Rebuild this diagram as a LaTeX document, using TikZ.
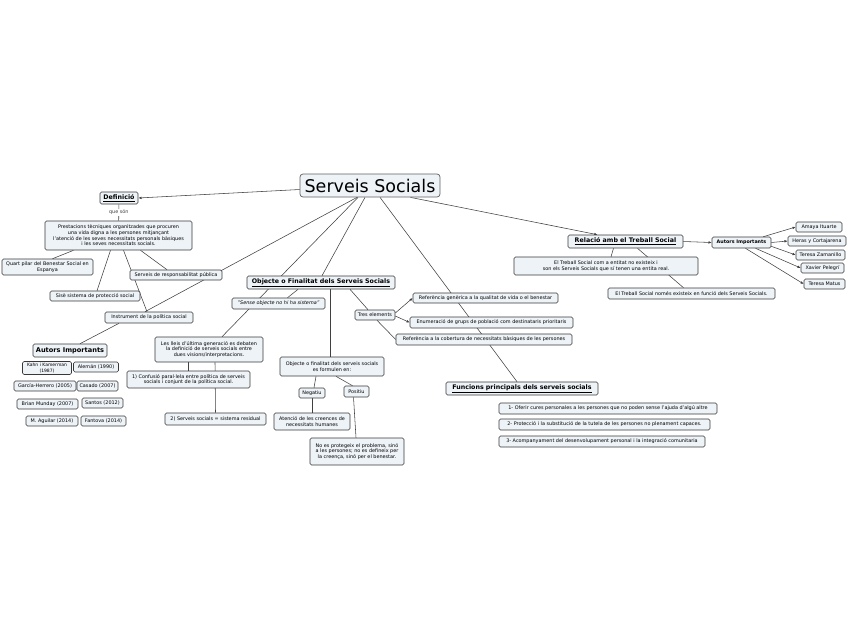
\documentclass[tikz,border=0pt]{standalone}
\usepackage{fontspec}
\setmainfont{DejaVu Sans}
\usetikzlibrary{arrows.meta,backgrounds}
\definecolor{boxfill}{HTML}{EEF3F8}
\definecolor{edge}{HTML}{383838}
\definecolor{wire}{HTML}{404040}

\begin{document}
\begin{tikzpicture}[x=1pt,y=-1pt,
          every node/.style={font=\fontsize{4.9}{5.7}\selectfont},
          mapbox/.style={rounded corners=1.5pt,fill=boxfill,draw=edge,line width=.6pt,
              inner sep=1.1pt,align=center},
          maphead/.style={mapbox,font=\bfseries\fontsize{6.3}{7.2}\selectfont},
          maptitle/.style={rounded corners=3pt,fill=boxfill,draw=edge!80,line width=.7pt,
              inner sep=2pt,font=\fontsize{17.5}{20}\selectfont},
          link/.style={wire,line width=.55pt},
          tip/.style={link,-{Latex[length=3.2pt,width=2.6pt]}}]
        \useasboundingbox (0,0) rectangle (848,638);
        % centre
        \node[maptitle,minimum width=140,minimum height=23] (title) at (370,185.5) {Serveis Socials};
        % definicio
        \node[maphead,minimum width=38,minimum height=12] (defin) at (119,198) {\underline{Definició}};
        \node[mapbox,minimum width=147,minimum height=29] (prest) at (118.5,235.5)
            {Prestacions tècniques organitzades que procuren\\una vida digna a les persones mitjançant\\l'atenció de les seves necessitats personals bàsiques\\i les seves necessitats socials.};
        \node[mapbox,minimum width=91,minimum height=16] (quart) at (47.5,267) {Quart pilar del Benestar Social en\\Espanya};
        \node[mapbox,minimum width=90,minimum height=10] (sise) at (95,296) {Sisè sistema de protecció social};
        \node[mapbox,minimum width=92,minimum height=10] (resp) at (176,275) {Serveis de responsabilitat pública};
        \node[mapbox,minimum width=88,minimum height=11] (instr) at (149,317.5) {Instrument de la política social};
        \node[mapbox,font=\bfseries\fontsize{6.6}{7.5}\selectfont,minimum width=74,minimum height=13] (autL) at (70,350.5) {Autors Importants};
        \node[mapbox,font=\fontsize{4.5}{5.3}\selectfont,minimum width=49,minimum height=13] (kahn) at (47,368) {Kahn i Kamerman\\(1987)};
        \node[mapbox,minimum width=45,minimum height=10] (aleman) at (96,367) {Alemán (1990)};
        \node[mapbox,minimum width=62,minimum height=10] (garcia) at (45,386) {García-Herrero (2005)};
        \node[mapbox,minimum width=41,minimum height=10] (casado) at (97.5,386) {Casado (2007)};
        \node[mapbox,minimum width=61,minimum height=10] (brian) at (47.5,404) {Brian Munday (2007)};
        \node[mapbox,minimum width=41,minimum height=10] (santos) at (102.5,403) {Santos (2012)};
        \node[mapbox,minimum width=52,minimum height=10] (aguilar) at (52,421) {M. Aguilar (2014)};
        \node[mapbox,minimum width=45,minimum height=10] (fantova) at (103.5,421) {Fantova (2014)};
        % objecte
        \node[maphead,minimum width=148,minimum height=13] (objecte) at (321,282.5) {\underline{Objecte o Finalitat dels Serveis Socials}};
        \node[mapbox,font=\itshape\fontsize{4.9}{5.7}\selectfont,minimum width=93,minimum height=11] (sense) at (278.5,303.5) {"Sense objecte no hi ha sistema"};
        \node[mapbox,minimum width=108,minimum height=25] (lleis) at (209,349.5)
            {Les lleis d'última generació es debaten\\la definició de serveis socials entre\\dues visions/interpretacions.};
        \node[mapbox,minimum width=123,minimum height=17] (confus) at (188.5,379.5)
            {1) Confusió paral·lela entre política de serveis\\socials i conjunt de la política social.};
        \node[mapbox,minimum width=101,minimum height=12] (resid) at (215.5,419) {2) Serveis socials = sistema residual};
        \node[mapbox,minimum width=104,minimum height=19] (formul) at (332,366.5)
            {Objecte o finalitat dels serveis socials\\es formulen en:};
        \node[mapbox,minimum width=26,minimum height=10] (neg) at (312,393) {Negatiu};
        \node[mapbox,minimum width=25,minimum height=11] (pos) at (356.5,391.5) {Positiu};
        \node[mapbox,minimum width=76,minimum height=17] (atencio) at (312,421.5) {Atenció de les creences de\\necessitats humanes};
        \node[mapbox,minimum width=94,minimum height=27] (noprot) at (357,451.5)
            {No es protegeix el problema, sinó\\a les persones; no es defineix per\\la creença, sinó per el benestar.};
        \node[mapbox,minimum width=40,minimum height=10] (tres) at (375,315) {Tres elements};
        \node[mapbox,minimum width=145,minimum height=10] (ref1) at (485.5,298) {Referència genèrica a la qualitat de vida o el benestar};
        \node[mapbox,minimum width=163,minimum height=11] (ref2) at (491.5,322.5) {Enumeració de grups de població com destinataris prioritaris};
        \node[mapbox,minimum width=176,minimum height=11] (ref3) at (484,339.5) {Referència a la cobertura de necessitats bàsiques de les persones};
        % funcions
        \node[maphead,minimum width=152,minimum height=13] (funcions) at (522,388.5) {\underline{Funcions principals dels serveis socials}};
        \node[mapbox,minimum width=218,minimum height=11] (fun1) at (608,408.5) {1- Oferir cures personales a les persones que no poden sense l'ajuda d'algú altre};
        \node[mapbox,minimum width=211,minimum height=11] (fun2) at (604.5,424.5) {2- Protecció i la substitució de la tutela de les persones no plenament capaces.};
        \node[mapbox,minimum width=206,minimum height=11] (fun3) at (602,441.5) {3- Acompanyament del desenvolupament personal i la integració comunitaria};
        % treball social
        \node[maphead,minimum width=115,minimum height=13] (relacio) at (625.5,241.5) {\underline{Relació amb el Treball Social}};
        \node[mapbox,minimum width=184,minimum height=18] (entitat) at (606,266)
            {El Treball Social com a entitat no existeix i\\son els Serveis Socials que sí tenen una entita real.};
        \node[mapbox,minimum width=167,minimum height=11] (nomes) at (691.5,293.5) {El Treball Social només existeix en funció dels Serveis Socials.};
        \node[mapbox,font=\bfseries\fontsize{4.8}{5.5}\selectfont,minimum width=59,minimum height=11] (autR) at (741.5,242.5) {Autors Importants};
        \node[mapbox,minimum width=46,minimum height=10] (amaya) at (819,227) {Amaya Ituarte};
        \node[mapbox,minimum width=58,minimum height=10] (heras) at (817,241) {Heras y Cortajarena};
        \node[mapbox,minimum width=49,minimum height=10] (zaman) at (820.5,255) {Teresa Zamanillo};
        \node[mapbox,minimum width=43,minimum height=10] (pelegri) at (822.5,268) {Xavier Pelegrí};
        \node[mapbox,minimum width=41,minimum height=10] (matus) at (824.5,284) {Teresa Matus};

        \begin{scope}[on background layer]
        \draw[tip] ([yshift=-4pt]title.west) -- (defin.east);
        \draw[link] (defin) -- node[fill=white,inner sep=1pt] (queson) {que són} (prest);
        \draw[link] ([xshift=-45pt]prest.south) -- ([xshift=5pt]quart.north);
        \draw[link] ([xshift=-8pt]prest.south) -- ([xshift=2pt]sise.north);
        \draw[link] ([xshift=5pt]prest.south) -- ([xshift=-2pt]instr.north);
        \draw[link] ([xshift=22pt]prest.south) -- ([xshift=-9pt]resp.north);
        \draw[link] ([xshift=-13pt]title.south) -- ([xshift=-4pt]instr.north);
        \draw[link] ([xshift=-30pt]instr.south) -- ([xshift=10pt]autL.north);
        \draw[link] ([xshift=-12pt]title.south) -- ([xshift=13pt]lleis.north);
        \draw[link] ([xshift=-5pt]title.south) -- ([xshift=1pt]objecte.north);
        \draw[link] ([xshift=10pt]title.south) -- ([xshift=-5pt]funcions.north);
        \draw[tip] ([xshift=-30pt]title.south east) -- ([xshift=-28pt]relacio.north);
        \draw[link] ([xshift=-23pt]objecte.south) -- ([xshift=9pt]sense.north);
        \draw[link] ([xshift=9pt]objecte.south) -- ([xshift=-2pt]formul.north);
        \draw[link] ([xshift=29pt]objecte.south) -- ([xshift=-7pt]tres.north);
        \draw[tip] ([yshift=2pt]tres.east) -- (ref1.west);
        \draw[tip] ([yshift=-1pt]tres.east) -- (ref2.west);
        \draw[link] ([xshift=2pt]tres.south) -- (ref3.west);
        \draw[link] ([xshift=-21pt]lleis.south) -- ([xshift=-.5pt]confus.north);
        \draw[link] ([xshift=6pt]lleis.south) -- (resid.north);
        \draw[link] ([xshift=-16pt]formul.south) -- ([xshift=2pt]neg.north);
        \draw[link] ([xshift=4pt]formul.south) -- ([xshift=-4pt]pos.north);
        \draw[link] (neg.south) -- (atencio.north);
        \draw[link] ([xshift=-3pt]pos.south) -- ([xshift=-1pt]noprot.north);
        \draw[link] ([xshift=-12pt]relacio.south) -- ([xshift=5pt]entitat.north);
        \draw[link] ([xshift=12pt]relacio.south) -- ([xshift=-8pt]nomes.north);
        \draw[tip] (relacio.east) -- (autR.west);
        \draw[tip] ([xshift=-8pt]autR.north east) -- (amaya.west);
        \draw[tip] (autR.east) -- (heras.west);
        \draw[tip] ([yshift=2pt]autR.south east) -- (zaman.west);
        \draw[tip] ([xshift=14pt]autR.south) -- (pelegri.west);
        \draw[tip] ([xshift=4pt]autR.south) -- (matus.west);
        \end{scope}
      \end{tikzpicture}
\end{document}
